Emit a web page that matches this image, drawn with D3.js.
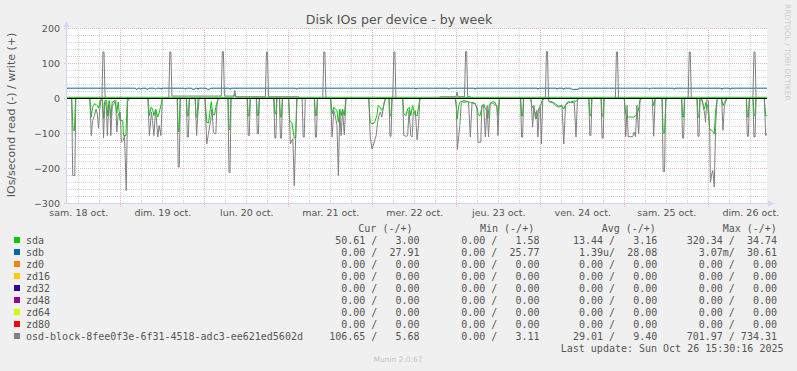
<!DOCTYPE html>
<html>
<head>
<meta charset="utf-8">
<script src="https://cdn.jsdelivr.net/npm/d3@7"></script>
<style>
  body { margin: 0; background: #f0f0f0; }
  svg text { font-family: "DejaVu Sans", sans-serif; }
  .mono { font-family: "DejaVu Sans Mono", monospace; white-space: pre; }
</style>
</head>
<body>
<svg id="chart" width="797" height="371"></svg>
<script>
// hours counted from 18 Oct 2025 00:00, values in IOs/second
// read series are stored as positive rates and drawn below zero
const startHour = 8.77;
const endHour = 208.77;

const dayLabels = ["sam. 18 oct.", "dim. 19 oct.", "lun. 20 oct.", "mar. 21 oct.", "mer. 22 oct.",
  "jeu. 23 oct.", "ven. 24 oct.", "sam. 25 oct.", "dim. 26 oct."];
const dayNoonHours = [12, 36, 60, 84, 108, 132, 156, 180, 204];
const yTicks = [200, 100, 0, -100, -200, -300];

const sdaRead = [[8.77,0],[10.1,0],[10.5,91],[10.9,91],[11.2,0],
  [15.3,0],[15.7,53],[16.1,25],[16.6,15],[17.1,17],[17.4,20],[17.8,28],[18.2,6],[18.9,3],[19.2,57],[19.6,6],[20.1,6],[20.4,50],[20.8,6],[21.3,55],[21.7,10],[22.5,6],[23.0,41],[23.4,10],[23.9,63],[24.7,63],[24.9,106],[25.6,106],[26.0,3],[26.4,0],
  [31.9,0],[32.3,49],[32.8,25],[33.2,30],[33.6,49],[34.1,30],[34.7,53],[35.1,41],[35.6,20],[36.0,0],
  [40.3,0],[40.55,94],[40.8,94],[41.1,0],[42.9,0],[43.15,50],[43.45,50],[43.7,0],[45.4,0],[45.65,53],[45.95,53],[46.2,0],
  [48.2,0],[48.7,68],[49.2,70],[49.6,39],[50.0,9],[50.4,44],[50.9,47],[51.4,20],[51.8,6],[52.2,0],
  [54.8,0],[55.05,89],[55.35,89],[55.6,0],[60.3,0],[60.55,50],[60.85,50],[61.1,0],[62.9,0],[63.15,49],[63.45,49],[63.7,0],
  [67.9,0],[68.15,44],[68.45,44],[68.7,0],[69.5,0],[69.75,53],[70.05,53],[70.3,0],
  [72.1,0],[72.4,63],[73.0,68],[73.3,87],[73.7,113],[74.1,113],[74.4,0],
  [79.5,0],[79.75,49],[80.05,49],[80.3,0],
  [84.1,0],[84.5,44],[85.0,25],[85.4,30],[85.9,34],[86.3,68],[86.7,30],[87.1,49],[87.5,30],[88.0,49],[88.4,3],[88.7,0],
  [95.0,0],[95.4,68],[95.9,72],[96.6,70],[97.3,49],[97.7,20],[98.2,25],[98.7,34],[99.1,25],[99.6,6],[99.9,0],
  [100.8,0],[101.05,49],[101.35,49],[101.6,0],
  [104.7,0],[105.0,44],[105.6,49],[106.1,30],[106.6,25],[107.0,49],[107.5,20],[108.3,49],[108.8,49],[109.3,20],[109.6,0],
  [119.7,0],[120.0,20],[120.3,58],[120.7,20],[121.0,11],[121.4,9],[122.2,6],[123.5,9],[124.0,11],[124.5,13],[125.0,11],[125.9,25],[126.3,47],[126.8,49],[127.3,25],[127.8,15],[128.3,30],[128.8,34],[129.0,58],[129.4,20],[130.2,9],[131.1,11],[131.6,25],[131.9,49],[132.3,3],[132.6,0],
  [138.4,0],[138.65,50],[138.95,50],[139.2,0],
  [141.2,0],[141.6,20],[142.1,30],[142.6,44],[143.0,58],[143.5,30],[144.0,25],[144.5,6],[144.8,0],
  [146.2,0],[146.5,9],[147.3,9],[148.3,15],[149.2,22],[150.2,20],[150.7,30],[151.2,18],[152.1,12],[153.0,9],[153.8,7],[154.2,9],[154.6,3],[154.9,0],
  [157.9,0],[158.15,49],[158.45,49],[158.7,0],[161.4,0],[161.65,50],[161.95,50],[162.2,0],
  [168.0,0],[168.4,44],[168.8,53],[170.8,53],[171.2,49],[171.6,49],[172.1,30],[172.5,3],[172.8,0],
  [176.0,0],[176.4,20],[176.8,3],[177.1,0],
  [178.8,0],[179.1,99],[179.5,99],[179.9,6],[180.3,0],
  [184.4,0],[184.65,53],[184.95,53],[185.2,0],[188.8,0],[189.05,53],[189.35,53],[189.6,0],
  [190.0,0],[190.3,6],[190.6,20],[190.9,30],[191.3,11],[191.8,20],[192.4,89],[193.0,91],[193.4,95],[193.7,101],[194.1,34],[194.5,6],[194.8,0],
  [195.8,0],[196.2,20],[196.6,12],[196.9,5],[197.2,0],
  [202.9,0],[203.15,53],[203.45,53],[203.7,0],[204.8,0],[205.05,49],[205.35,49],[205.6,0],
  [208.0,0],[208.4,49],[208.77,49]];

const sdaWrite = [[8.77,3.5],[56.4,3.5],[56.7,12],[57.0,3.5],[208.77,3.5]];

const sdbRead = [[8.77,0],[208.77,0]];
const sdbWrite = [[8.77,29.5],[28.3,29.5],[28.5,26.5],[28.9,26.5],[29.1,29.5],[29.6,29.5],[29.8,26],[30.2,29.5],
  [31.4,29.5],[31.6,26.5],[32.0,26.5],[32.2,29.5],[33.8,29.5],[34.0,26.5],[34.4,29.5],[35.5,29.5],[35.7,26],[35.9,29.5],
  [42.4,29.5],[42.6,26],[42.8,29.5],[44.4,29.5],[44.6,26.5],[45.2,26.5],[45.4,29.5],[46.0,29.5],[46.2,26],[46.4,29.5],
  [48.6,29.5],[48.8,26.5],[49.6,26.5],[49.8,29.5],[55.2,29.5],[55.4,26],[55.6,29.5],[74.1,29.5],[74.3,26],[74.5,29.5],
  [108.3,29.5],[108.5,26],[108.7,29.5],[117.6,29.5],[117.8,26],[118.0,29.5],[125.2,29.5],[125.4,26],[125.6,29.5],
  [143.1,29.5],[143.3,26],[143.5,29.5],[148.6,29.5],[148.8,26],[149.0,29.5],[150.5,29.5],[150.7,26],[150.9,29.5],
  [152.7,29.5],[152.9,26.5],[153.5,26],[154.2,26.5],[154.8,26],[155.0,29.5],[175.0,29.5],[175.2,26],[175.4,29.5],
  [182.1,29.5],[182.3,26],[182.5,29.5],[195.7,29.5],[195.9,26],[196.1,29.5],[198.1,29.5],[198.3,26],[198.5,29.5],[208.77,29.5]];

const zdFlat = [[8.77,0],[208.77,0]];

const osdRead = [[8.77,0],[10.1,0],[10.4,220],[11.0,220],[11.3,0],
  [15.3,0],[15.7,106],[16.1,63],[16.6,49],[17.1,30],[17.4,44],[17.8,85],[18.1,34],[18.5,3],[18.9,6],[19.2,113],[19.6,9],[20.0,20],[20.3,106],[20.7,20],[21.0,15],[21.3,106],[21.7,20],[22.2,15],[22.7,6],[23.0,96],[23.4,44],[24.0,39],[24.3,125],[24.8,120],[25.2,106],[25.7,263],[26.1,9],[26.6,0],
  [31.9,0],[32.3,106],[32.9,39],[33.2,63],[33.6,106],[34.1,30],[34.7,110],[35.1,77],[35.6,106],[36.0,3],[36.3,0],
  [40.25,0],[40.55,196],[40.85,196],[41.15,0],[42.85,0],[43.15,110],[43.45,110],[43.75,0],[45.4,0],[45.8,106],[46.1,53],[46.5,0],
  [48.2,0],[48.7,130],[49.1,106],[49.4,87],[49.8,63],[50.2,30],[50.6,96],[51.0,101],[51.3,101],[51.6,20],[51.9,0],
  [54.75,0],[55.05,212],[55.35,212],[55.65,0],
  [60.25,0],[60.55,106],[60.85,106],[61.15,0],[62.85,0],[63.15,101],[63.45,101],[63.75,0],
  [67.85,0],[68.15,113],[68.45,113],[68.75,0],[69.45,0],[69.75,113],[70.05,113],[70.35,0],
  [72.1,0],[72.6,130],[73.0,120],[73.3,115],[73.7,249],[74.1,115],[74.5,0],
  [75.95,0],[76.25,110],[76.55,110],[76.85,0],[79.45,0],[79.75,110],[80.05,110],[80.35,0],
  [84.1,0],[84.5,110],[85.0,34],[85.4,49],[85.9,77],[86.3,220],[86.7,39],[87.1,106],[87.5,34],[88.0,104],[88.5,0],
  [95.0,0],[95.4,110],[95.9,144],[96.4,130],[96.8,115],[97.1,106],[97.5,68],[97.9,49],[98.3,39],[98.7,53],[99.1,30],[99.4,11],[99.7,0],
  [100.75,0],[101.05,108],[101.35,108],[101.65,0],
  [104.7,0],[105.0,106],[105.7,108],[106.1,106],[106.5,34],[107.0,106],[107.4,110],[107.7,40],[108.3,35],[108.8,118],[109.2,77],[109.6,0],
  [119.7,0],[120.0,20],[120.3,146],[120.7,106],[121.0,77],[121.4,15],[121.8,9],[122.2,11],[123.1,9],[123.5,11],[124.0,110],[124.5,11],[125.0,15],[125.4,13],[125.9,30],[126.2,125],[127.0,125],[127.3,20],[127.8,20],[128.3,110],[128.8,20],[129.2,110],[129.7,13],[130.2,13],[130.7,15],[131.1,20],[131.6,20],[131.9,106],[132.3,3],[132.6,0],
  [138.35,0],[138.65,110],[138.95,110],[139.25,0],
  [141.2,0],[141.4,6],[141.8,82],[142.2,20],[142.6,58],[143.0,34],[143.3,110],[143.7,30],[144.0,20],[144.3,130],[144.7,6],[145.0,0],
  [146.2,0],[146.4,6],[146.9,12],[147.3,11],[147.8,15],[148.3,20],[149.2,25],[150.2,20],[150.7,130],[151.2,20],[151.6,12],[152.1,9],[152.6,11],[153.0,12],[153.7,11],[154.2,110],[154.6,6],[154.9,0],
  [157.85,0],[158.15,106],[158.45,106],[158.75,0],[161.35,0],[161.65,113],[161.95,113],[162.25,0],
  [168.0,0],[168.4,109],[168.8,20],[169.1,109],[170.4,109],[170.8,96],[171.2,109],[171.6,20],[172.1,101],[172.5,6],[172.8,0],
  [176.0,0],[176.4,108],[176.8,3],[177.1,0],
  [178.8,0],[179.1,209],[179.5,209],[179.8,0],
  [184.35,0],[184.65,113],[184.95,113],[185.25,0],[188.75,0],[189.05,108],[189.35,108],[189.65,0],
  [190.0,0],[190.5,20],[190.9,39],[191.2,68],[191.6,3],[192.0,6],[192.4,91],[192.6,239],[193.0,215],[193.3,206],[193.7,253],[194.1,77],[194.5,3],[194.8,0],
  [195.8,0],[196.2,91],[196.6,20],[196.9,12],[197.2,3],[197.5,0],
  [202.85,0],[203.15,108],[203.45,108],[203.75,0],[204.75,0],[205.05,110],[205.35,110],[205.65,0],
  [208.0,0],[208.4,106],[208.77,100]];

const osdWrite = [[8.77,0.5],[18.75,0.5],[19.05,133],[19.35,133],[19.65,0.5],
  [37.85,0.5],[38.15,133],[38.45,133],[38.75,7],[52.85,7],[53.15,134],[53.45,134],[53.75,7],
  [56.4,7],[56.7,23],[57.0,5],[65.45,5],[65.75,133],[66.05,133],[66.35,5],[75.0,5],[75.3,0.5],
  [81.85,0.5],[82.15,133],[82.45,133],[82.75,0.5],[101.85,0.5],[102.15,133],[102.45,133],[102.75,0.5],
  [115.0,0.5],[115.3,5],[119.9,5],[120.2,18],[120.5,5],[122.35,5],[122.65,134],[122.95,134],[123.25,5],[124.0,5],[124.3,0.5],
  [145.45,0.5],[145.75,134],[146.05,134],[146.35,0.5],
  [165.45,0.5],[165.75,133],[166.05,133],[166.35,0.5],[186.25,0.5],[186.55,133],[186.85,133],[187.15,0.5],
  [204.75,0.5],[205.05,133],[205.35,133],[205.65,0.5],[208.77,0.5]];

// legend table
const legendNames = ["sda", "sdb", "zd0", "zd16", "zd32", "zd48", "zd64", "zd80",
  "osd-block-8fee0f3e-6f31-4518-adc3-ee621ed5602d"];
const legendColors = ["#00CC00", "#0066B3", "#FF8000", "#FFCC00", "#330099", "#990099", "#CCFF00", "#FF0000", "#808080"];
const curRead  = ["50.61", "0.00", "0.00", "0.00", "0.00", "0.00", "0.00", "0.00", "106.65"];
const curWrite = ["3.00", "27.91", "0.00", "0.00", "0.00", "0.00", "0.00", "0.00", "5.68"];
const minRead  = ["0.00", "0.00", "0.00", "0.00", "0.00", "0.00", "0.00", "0.00", "0.00"];
const minWrite = ["1.58", "25.77", "0.00", "0.00", "0.00", "0.00", "0.00", "0.00", "3.11"];
const avgRead  = ["13.44", "1.39u", "0.00", "0.00", "0.00", "0.00", "0.00", "0.00", "29.01"];
const avgWrite = ["3.16", "28.08", "0.00", "0.00", "0.00", "0.00", "0.00", "0.00", "9.40"];
const maxRead  = ["320.34", "3.07m", "0.00", "0.00", "0.00", "0.00", "0.00", "0.00", "701.97"];
const maxWrite = ["34.74", "30.61", "0.00", "0.00", "0.00", "0.00", "0.00", "0.00", "734.31"];

const fields = [
  { read: sdaRead, write: sdaWrite },
  { read: sdbRead, write: sdbWrite },
  { read: zdFlat, write: zdFlat },
  { read: zdFlat, write: zdFlat },
  { read: zdFlat, write: zdFlat },
  { read: zdFlat, write: zdFlat },
  { read: zdFlat, write: zdFlat },
  { read: zdFlat, write: zdFlat },
  { read: osdRead, write: osdWrite },
];

const PLOT = { left: 67, right: 767, top: 28, bottom: 203 };
const TEXT = "#555";
const MINOR = "#d4d4d4";
const MAJOR = "#efb4b4";
const AXIS = "#cfd6f8";

const t0 = Date.UTC(2025, 9, 18);
const toDate = (h) => new Date(t0 + h * 3600e3);

const x = d3.scaleUtc().domain([toDate(startHour), toDate(endHour)]).range([PLOT.left, PLOT.right]);
const y = d3.scaleLinear().domain([-300, 200]).range([PLOT.bottom + 0.5, PLOT.top + 0.5]);
const px = (v) => Math.floor(v) + 0.5;

const svg = d3.select("#chart");

svg.append("rect").attr("width", 797).attr("height", 371).attr("fill", "#f0f0f0");
svg.append("rect")
  .attr("x", PLOT.left).attr("y", PLOT.top)
  .attr("width", PLOT.right - PLOT.left).attr("height", PLOT.bottom - PLOT.top)
  .attr("fill", "#ffffff");

// grid
const grid = svg.append("g").attr("shape-rendering", "crispEdges").attr("stroke-dasharray", "1,1");
const yMinor = d3.range(-300, 201, 20).filter((v) => v % 100 !== 0);
const yMajor = d3.range(-300, 201, 100);
const xMinor = x.ticks(d3.utcHour.every(6)).filter((d) => d.getUTCHours() !== 0);
const xMajor = x.ticks(d3.utcDay.every(1));

grid.selectAll("line.ymin").data(yMinor).enter().append("line")
  .attr("x1", PLOT.left).attr("x2", PLOT.right)
  .attr("y1", (d) => px(y(d))).attr("y2", (d) => px(y(d)))
  .attr("stroke", MINOR);
grid.selectAll("line.xmin").data(xMinor).enter().append("line")
  .attr("x1", (d) => px(x(d))).attr("x2", (d) => px(x(d)))
  .attr("y1", PLOT.top).attr("y2", PLOT.bottom)
  .attr("stroke", MINOR);
grid.selectAll("line.ymaj").data(yMajor).enter().append("line")
  .attr("x1", PLOT.left - 3).attr("x2", PLOT.right)
  .attr("y1", (d) => px(y(d))).attr("y2", (d) => px(y(d)))
  .attr("stroke", MAJOR);
grid.selectAll("line.xmaj").data(xMajor).enter().append("line")
  .attr("x1", (d) => px(x(d))).attr("x2", (d) => px(x(d)))
  .attr("y1", PLOT.top).attr("y2", PLOT.bottom + 4)
  .attr("stroke", MAJOR);

// series
svg.append("clipPath").attr("id", "clip").append("rect")
  .attr("x", PLOT.left).attr("y", PLOT.top)
  .attr("width", PLOT.right - PLOT.left).attr("height", PLOT.bottom - PLOT.top);

const series = svg.append("g").attr("clip-path", "url(#clip)");
const readLine = d3.line().x((d) => x(toDate(d[0]))).y((d) => y(-d[1]));
const writeLine = d3.line().x((d) => x(toDate(d[0]))).y((d) => y(d[1]));

fields.forEach((f, i) => {
  series.append("path").attr("d", readLine(f.read))
    .attr("fill", "none").attr("stroke", legendColors[i]).attr("stroke-width", 1);
  series.append("path").attr("d", writeLine(f.write))
    .attr("fill", "none").attr("stroke", legendColors[i]).attr("stroke-width", 1);
});

svg.append("line")
  .attr("x1", PLOT.left).attr("x2", PLOT.right)
  .attr("y1", px(y(0))).attr("y2", px(y(0)))
  .attr("stroke", "#000").attr("shape-rendering", "crispEdges");

// axes lines and arrows
svg.append("line").attr("x1", PLOT.left - 0.5).attr("x2", PLOT.left - 0.5)
  .attr("y1", PLOT.bottom + 0.5).attr("y2", PLOT.top - 5)
  .attr("stroke", AXIS).attr("shape-rendering", "crispEdges");
svg.append("line").attr("x1", PLOT.left - 0.5).attr("x2", PLOT.right + 4)
  .attr("y1", PLOT.bottom + 0.5).attr("y2", PLOT.bottom + 0.5)
  .attr("stroke", AXIS).attr("shape-rendering", "crispEdges");
svg.append("path").attr("d", `M${PLOT.left - 3.5},${PLOT.top - 1}L${PLOT.left + 2.5},${PLOT.top - 1}L${PLOT.left - 0.5},${PLOT.top - 7}Z`)
  .attr("fill", AXIS);
svg.append("path").attr("d", `M${PLOT.right + 1},${PLOT.bottom - 2.5}L${PLOT.right + 1},${PLOT.bottom + 3.5}L${PLOT.right + 7},${PLOT.bottom + 0.5}Z`)
  .attr("fill", AXIS);

// tick labels
const yAxis = svg.append("g").attr("transform", `translate(${PLOT.left},0)`)
  .call(d3.axisLeft(y).tickValues(yTicks).tickSize(0).tickPadding(7));
const xAxis = svg.append("g").attr("transform", `translate(0,${PLOT.bottom})`)
  .call(d3.axisBottom(x).tickValues(dayNoonHours.map(toDate)).tickSize(0).tickPadding(6)
    .tickFormat((d, i) => dayLabels[i]));
[yAxis, xAxis].forEach((g) => {
  g.select(".domain").remove();
  g.attr("font-family", "DejaVu Sans").attr("font-size", 9.5);
  g.selectAll("text").attr("fill", TEXT);
});

// title and labels
svg.append("text").attr("x", 399).attr("y", 23.5).attr("text-anchor", "middle")
  .attr("font-size", 12.6).attr("fill", TEXT).text("Disk IOs per device - by week");
svg.append("text").attr("transform", "translate(15,115) rotate(-90)").attr("text-anchor", "middle")
  .attr("font-size", 11).attr("fill", TEXT).text("IOs/second read (-) / write (+)");
svg.append("text").attr("transform", "translate(785,4) rotate(90)")
  .attr("font-size", 7.5).attr("fill", "#cccccc").text("RRDTOOL / TOBI OETIKER");

// legend
const legend = svg.append("g").attr("class", "mono").attr("font-size", 10).attr("fill", TEXT);
const headerY = 231.5;
const rowY = (i) => 243.5 + i * 12;
[["Cur (-/+)", 358.3], ["Min (-/+)", 480], ["Avg (-/+)", 601.7], ["Max (-/+)", 722.7]].forEach(([t, hx]) => {
  legend.append("text").attr("class", "mono").attr("x", hx).attr("y", headerY).text(t);
});
const cell = (r, w) => (/[a-z]$/.test(r) ? r : r + " ") + "/" + w.padStart(7, " ");
const columns = [[curRead, curWrite, 419.5], [minRead, minWrite, 539.5], [avgRead, avgWrite, 657.3], [maxRead, maxWrite, 777]];

legendNames.forEach((name, i) => {
  legend.append("rect").attr("x", 14).attr("y", rowY(i) - 6.5).attr("width", 6).attr("height", 6)
    .attr("fill", legendColors[i]);
  legend.append("text").attr("class", "mono").attr("x", 26).attr("y", rowY(i)).text(name);
  columns.forEach(([rd, wr, cx]) => {
    legend.append("text").attr("class", "mono").attr("x", cx).attr("y", rowY(i))
      .attr("text-anchor", "end").text(cell(rd[i], wr[i]));
  });
});
legend.append("text").attr("class", "mono").attr("x", 783.5).attr("y", rowY(9))
  .attr("text-anchor", "end").text("Last update: Sun Oct 26 15:30:16 2025");

svg.append("text").attr("x", 398).attr("y", 362).attr("text-anchor", "middle")
  .attr("font-size", 7.5).attr("fill", "#c4c4c4").text("Munin 2.0.67");
</script>
</body>
</html>
